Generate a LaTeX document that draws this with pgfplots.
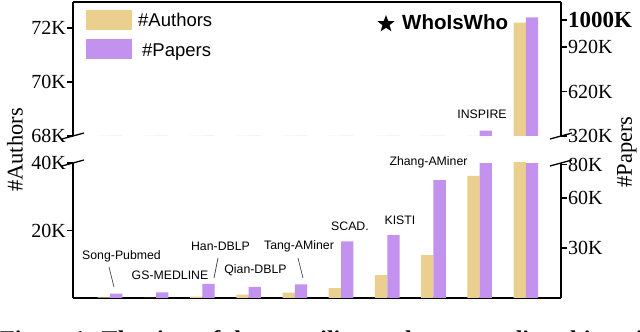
\documentclass[border=0pt]{standalone}
\usepackage{fontspec}
\setmainfont{Liberation Serif}
\newfontfamily\sansf{Liberation Sans}
\usepackage{pgfplots}
\usepackage{pgfplotstable}
\pgfplotsset{compat=1.18}
\usetikzlibrary{shapes.geometric}
\definecolor{authc}{HTML}{EACF8E}
\definecolor{papc}{HTML}{C392EE}

% sizes in thousands
\pgfplotstableread{
idx authors papers
0 0.2 2.6
1 0.05 3.4
2 0.4 8.4
3 1.0 6.6
4 1.6 8.2
5 2.9 34.0
6 6.8 37.8
7 12.7 70.8
8 36.2 356
9 72.2 1120
}\sizes

\pgfplotsset{
  panel/.style={
    scale only axis, width=488pt, xmin=-0.8, xmax=9.76,
    ybar, bar width=12.3pt, xtick=\empty,
    axis line style={line width=1.3pt, -},
    tick style={line width=1.2pt, black},
    major tick length=6pt, tick align=outside,
    yticklabel style={font=\fontsize{20}{20}\selectfont, inner sep=1pt},
  },
  lower/.style={panel, height=135pt, at={(73pt,34pt)}, anchor=south west},
  upper/.style={panel, height=134pt, at={(73pt,196pt)}, anchor=south west},
  authbar/.style={fill=authc, draw=none, bar shift=-6.15pt},
  papbar/.style={fill=papc, draw=none, bar shift=6.15pt},
}

\begin{document}
\begin{tikzpicture}[x=1pt, y=1pt]
\useasboundingbox (0,0) rectangle (640,332);

% lower panel, authors
\begin{axis}[lower, ymin=0, ymax=40, axis x line*=bottom, axis y line*=left,
  ytick={20,40}, yticklabels={20K,40K}]
\addplot[authbar] table[x=idx, y=authors] {\sizes};
\end{axis}
% lower panel, papers
\begin{axis}[lower, ymin=0, ymax=81, hide x axis, axis y line*=right,
  ytick={30,60,80}, yticklabels={30K,60K,80K}]
\addplot[papbar] table[x=idx, y=papers] {\sizes};
\end{axis}
% upper panel, authors
\begin{axis}[upper, ymin=68, ymax=72.96, axis x line*=top, axis y line*=left,
  ytick={68,70,72}, yticklabels={68K,70K,72K}]
\addplot[authbar] table[x=idx, y=authors] {\sizes};
\end{axis}
% upper panel, papers
\begin{axis}[upper, ymin=320, ymax=1223, hide x axis, axis y line*=right,
  ytick={320,620,920,1102},
  yticklabels={320K,620K,920K,{\fontsize{23}{23}\selectfont\bfseries 1000K}}]
\addplot[papbar] table[x=idx, y=papers] {\sizes};
\end{axis}

% break marks
\foreach \bx/\by in {73/196, 73/169, 561/196, 561/169}
  \draw[line width=1.3pt] (\bx-11,\by-3) -- (\bx+11,\by+3);

% axis titles
\node[rotate=90, font=\fontsize{22.5}{22.5}\selectfont] at (15,182) {\#Authors};
\node[rotate=90, font=\fontsize{22.5}{22.5}\selectfont] at (627,180) {\#Papers};

% legend
\fill[authc] (86,302) rectangle (132,322);
\fill[papc] (86,273) rectangle (132,293);
\node[anchor=base west, inner sep=0, font=\sansf\fontsize{18.5}{18.5}\selectfont] at (138,305) {\#Authors};
\node[anchor=base west, inner sep=0, font=\sansf\fontsize{18.5}{18.5}\selectfont] at (142,275.5) {\#Papers};

% WhoIsWho marker
\node[star, star points=5, star point ratio=2.4, fill=black, inner sep=0, minimum size=18pt] at (386,308) {};
\node[anchor=base west, inner sep=0, font=\sansf\bfseries\fontsize{20.5}{20.5}\selectfont] at (402,302) {WhoIsWho};

% dataset names
\begin{scope}[every node/.style={anchor=base, inner sep=0, font=\sansf\fontsize{12.3}{12.3}\selectfont}]
\node at (121.5,72.7) {Song-Pubmed};
\node at (170,52.7) {GS-MEDLINE};
\node at (220.5,81.3) {Han-DBLP};
\node at (255.5,58.7) {Qian-DBLP};
\node at (299,82) {Tang-AMiner};
\node at (350,101.3) {SCAD.};
\node at (400,107) {KISTI};
\node at (428.5,166) {Zhang-AMiner};
\node at (482,213.7) {INSPIRE};
\end{scope}
\draw[black!75, line width=0.7pt] (109,65) -- (114,45);
\draw[black!75, line width=0.7pt] (218,74) -- (214,54);
\draw[black!75, line width=0.7pt] (298,74) -- (303,54);

% caption, cut off at the bottom edge as in the source crop
\node[anchor=base west, inner sep=0, font=\bfseries\fontsize{24}{24}\selectfont] at (0,-16)
  {Figure 1: The sizes of the compiling author name disambiguation benchmarks.};
\end{tikzpicture}
\end{document}
